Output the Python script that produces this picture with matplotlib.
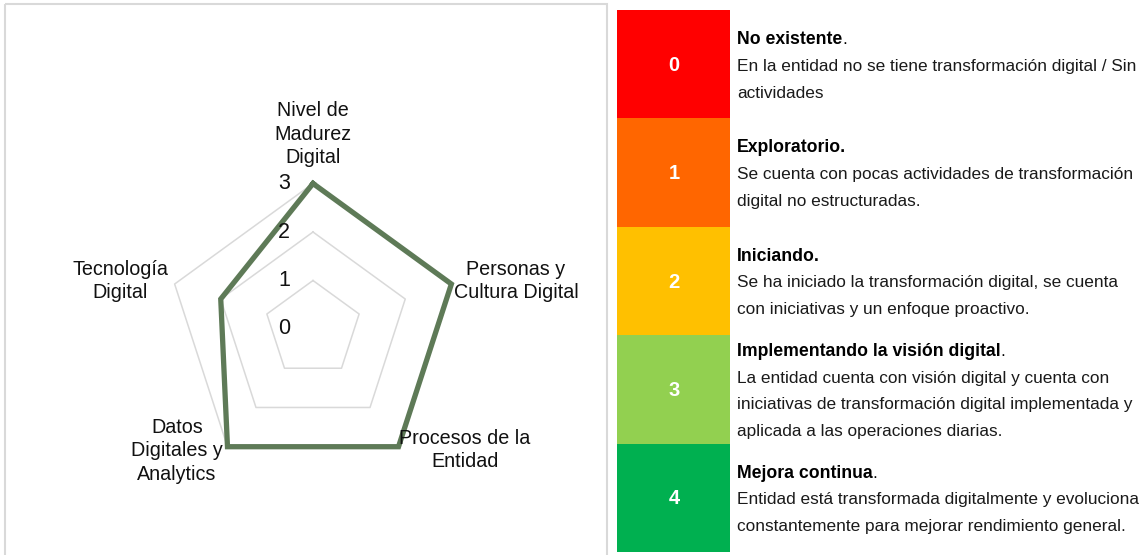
import matplotlib.pyplot as plt
from matplotlib.patches import Rectangle
import numpy as np

# radar data
categories = ["Nivel de\nMadurez\nDigital", "Personas y\nCultura Digital", "Procesos de la\nEntidad",
              "Datos\nDigitales y\nAnalytics", "Tecnología\nDigital"]
values = [3, 3, 3, 3, 2]
rings = [1, 2, 3]
tick_vals = [0, 1, 2, 3]

# level table
levels = ["0", "1", "2", "3", "4"]
level_colors = ["#FF0000", "#FF6600", "#FFC000", "#92D050", "#00B050"]
level_titles = ["No existente", "Exploratorio.", "Iniciando.", "Implementando la visión digital", "Mejora continua"]
title_dot = [True, False, False, True, True]
level_desc = [
    ["En la entidad no se tiene transformación digital / Sin", "actividades"],
    ["Se cuenta con pocas actividades de transformación", "digital no estructuradas."],
    ["Se ha iniciado la transformación digital, se cuenta", "con iniciativas y un enfoque proactivo."],
    ["La entidad cuenta con visión digital y cuenta con",
     "iniciativas de transformación digital implementada y", "aplicada a las operaciones diarias."],
    ["Entidad está transformada digitalmente y evoluciona",
     "constantemente para mejorar rendimiento general."],
]

plt.rcParams['font.family'] = ['Liberation Sans', 'DejaVu Sans']

fig = plt.figure(figsize=(11.4, 5.55), dpi=100)
ax = fig.add_axes([0, 0, 1, 1])
ax.set_xlim(0, 1140)
ax.set_ylim(555, 0)
ax.axis('off')

# chart frame
ax.add_patch(Rectangle((5, 4), 602, 560, fill=False, edgecolor='#D9D9D9', lw=1.5))

cx, cy, unit = 313, 329, 48.5
n = len(values)
ang = np.arange(n) * 2 * np.pi / n

def to_xy(r):
    r = np.asarray(r, dtype=float)
    return cx + r * unit * np.sin(ang), cy - r * unit * np.cos(ang)

for r in rings:
    x, y = to_xy([r] * n)
    ax.plot(np.append(x, x[0]), np.append(y, y[0]), color='#D9D9D9', lw=1.1, zorder=1)

x, y = to_xy(values)
ax.plot(np.append(x, x[0]), np.append(y, y[0]), color='#5E7A57', lw=3.8,
        solid_joinstyle='miter', zorder=3)

for v in tick_vals:
    ax.text(cx - 23, cy - v * unit, str(v), ha='right', va='center', fontsize=15.5, color='#111111', zorder=4)

lab_pos = [(313, 134), (516, 281), (465, 450), (177, 451), (120, 281)]
for lab, (lx, ly) in zip(categories, lab_pos):
    ax.text(lx, ly, lab, ha='center', va='center', fontsize=14.2, linespacing=1.33,
            multialignment='center', color='#111111', zorder=4)

# level table
top, row_h = 10, 108.4
pitch = 26.8
fs = 12.4
for i, lev in enumerate(levels):
    y0 = top + i * row_h
    ax.add_patch(Rectangle((617, y0), 113, row_h, facecolor=level_colors[i], edgecolor='none'))
    ax.text(674, y0 + row_h / 2 + 1, lev, ha='center', va='center', color='white',
            fontsize=14.5, fontweight='bold')
    nl = 1 + len(level_desc[i])
    first = y0 + row_h / 2 + 2 - (nl - 1) / 2 * pitch
    t = ax.text(737, first, level_titles[i], ha='left', va='center', fontsize=fs + 0.3,
                fontweight='bold', color='black')
    if title_dot[i]:
        ax.annotate('.', xy=(1, 0.5), xycoords=t, ha='left', va='center', fontsize=fs, color='black')
    for j, line in enumerate(level_desc[i]):
        ax.text(737, first + (j + 1) * pitch, line, ha='left', va='center', fontsize=fs,
                color='#1a1a1a')

fig.savefig('out.png', dpi=100)
